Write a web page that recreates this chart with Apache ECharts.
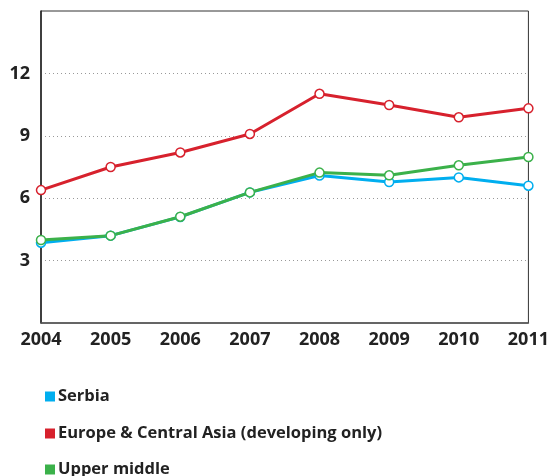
<!DOCTYPE html>
<html>
<head>
<meta charset="utf-8">
<script src="https://cdn.jsdelivr.net/npm/echarts@6/dist/echarts.min.js"></script>
<style>
  html, body { margin: 0; padding: 0; background: #fff; }
  #chart { width: 552px; height: 476px; }
</style>
</head>
<body>
<div id="chart"></div>
<script>
const years = ["2004", "2005", "2006", "2007", "2008", "2009", "2010", "2011"];
const serbia = [3.86, 4.2, 5.1, 6.28, 7.09, 6.78, 7.0, 6.6];
const europeCentralAsia = [6.39, 7.5, 8.2, 9.09, 11.02, 10.48, 9.89, 10.32];
const upperMiddle = [3.99, 4.2, 5.11, 6.28, 7.23, 7.1, 7.58, 7.98];
const yTicks = [3, 6, 9, 12];
const seriesNames = ["Serbia", "Europe & Central Asia (developing only)", "Upper middle"];
const seriesColors = ["#00aeef", "#d7212d", "#3bb14a"];

const chart = echarts.init(document.getElementById("chart"));

const font = "'Open Sans', sans-serif";

// 单条折线的公共样式
function lineSeries(name, data, color) {
  return {
    name: name,
    type: "line",
    data: data,
    symbol: "circle",
    symbolSize: 9,
    lineStyle: { color: color, width: 3 },
    itemStyle: { color: "#fff", borderColor: color, borderWidth: 1.5 },
    emphasis: { disabled: true },
    animation: false
  };
}

// 每个图例单独一行
function legendRow(i, top) {
  return {
    orient: "horizontal",
    left: 40,
    top: top,
    itemWidth: 10,
    itemHeight: 10,
    icon: "rect",
    selectedMode: false,
    textStyle: { fontFamily: font, fontWeight: "bold", fontSize: 16.5, color: "#222", padding: [0, 0, 0, -2] },
    data: [{ name: seriesNames[i], itemStyle: { color: seriesColors[i], borderWidth: 0 } }]
  };
}

const option = {
  grid: {
    left: 41, right: 16, top: 11, bottom: 153,
    show: true, borderColor: "#333", borderWidth: 1
  },
  legend: [legendRow(0, 383), legendRow(1, 420), legendRow(2, 456)],
  xAxis: {
    type: "category",
    data: years,
    boundaryGap: false,
    axisLine: { lineStyle: { color: "#555", width: 1.5 } },
    axisTick: { show: false },
    axisLabel: {
      fontFamily: font, fontWeight: "bold", fontSize: 18, color: "#222", margin: 8,
      showMinLabel: true, showMaxLabel: true
    }
  },
  yAxis: {
    type: "value",
    min: 0,
    max: 15,
    interval: 3,
    axisLine: { show: true, lineStyle: { color: "#222", width: 1.5 } },
    axisTick: { show: false },
    splitLine: {
      lineStyle: { color: "#999", type: [1, 3], width: 1 },
      showMinLine: false, showMaxLine: false
    },
    axisLabel: {
      fontFamily: font, fontWeight: "bold", fontSize: 18, color: "#222", margin: 11,
      formatter: v => (yTicks.indexOf(v) >= 0 ? String(v) : "")
    }
  },
  series: [
    lineSeries(seriesNames[0], serbia, seriesColors[0]),
    lineSeries(seriesNames[1], europeCentralAsia, seriesColors[1]),
    lineSeries(seriesNames[2], upperMiddle, seriesColors[2])
  ]
};

chart.setOption(option, true);
</script>
</body>
</html>
